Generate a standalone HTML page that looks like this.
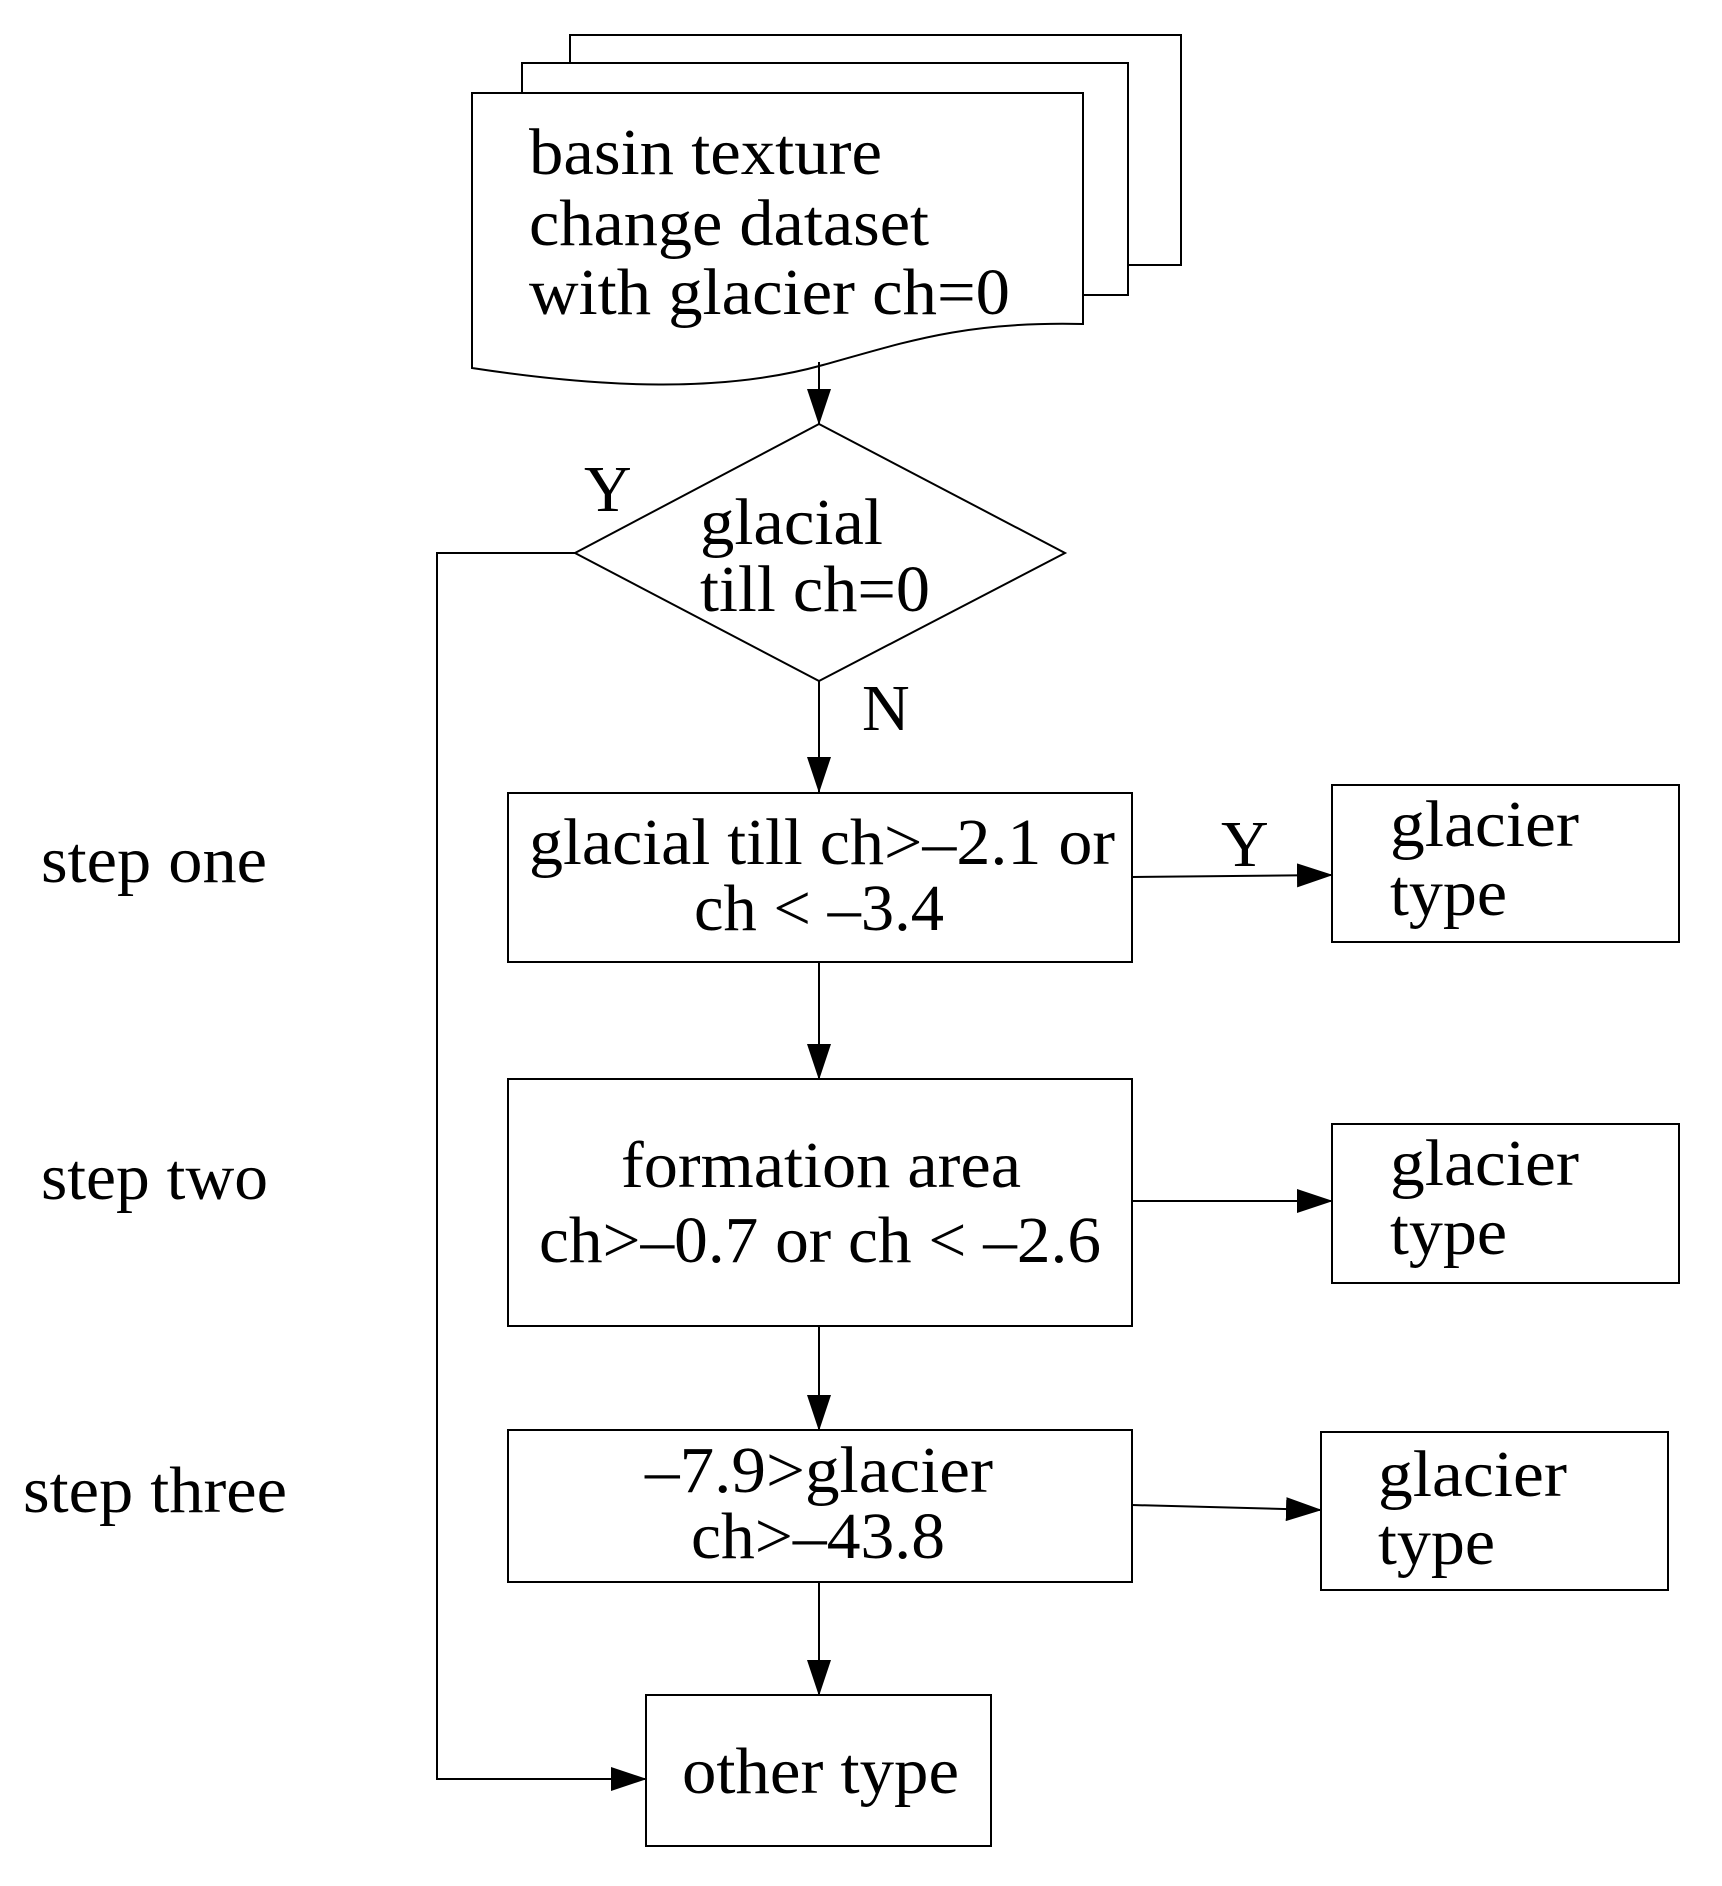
<!DOCTYPE html>
<html><head><meta charset="utf-8"><style>
html,body{margin:0;padding:0;background:#fff;}
svg{display:block;}
text{font-family:"Liberation Serif",serif;font-size:66px;fill:#000;}
</style></head><body>
<svg width="1722" height="1886" viewBox="0 0 1722 1886" xmlns="http://www.w3.org/2000/svg">
<defs>
<marker id="a" markerWidth="36" markerHeight="24" refX="35" refY="12" orient="auto" markerUnits="userSpaceOnUse">
<path d="M0,0 L36,12 L0,24 Z" fill="#000"/></marker>
</defs>
<g transform="translate(3,3)">
<g fill="#fff" stroke="#000" stroke-width="2">
<rect x="567" y="32" width="611" height="230"/>
<rect x="519" y="60" width="606" height="232"/>
<path d="M469,90 L1080,90 L1080,321 C960,318 900,340 820,362 C720,390 600,385 469,365 Z"/>
</g>
<text x="526" y="171" textLength="353" lengthAdjust="spacingAndGlyphs">basin texture</text>
<text x="526" y="242" textLength="400" lengthAdjust="spacingAndGlyphs">change dataset</text>
<text x="526" y="311" textLength="481" lengthAdjust="spacingAndGlyphs">with glacier ch=0</text>
<g stroke="#000" stroke-width="2" fill="none">
<line x1="816" y1="359" x2="816" y2="421" marker-end="url(#a)"/>
<polygon points="816,421 1062,550 816,678 572,550" fill="#fff"/>
<polyline points="572,550 434,550 434,1776 643,1776" marker-end="url(#a)"/>
<line x1="816" y1="678" x2="816" y2="789" marker-end="url(#a)"/>
<rect x="505" y="790" width="624" height="169" fill="#fff"/>
<line x1="1129" y1="874" x2="1329" y2="872" marker-end="url(#a)"/>
<rect x="1329" y="782" width="347" height="157"/>
<line x1="816" y1="959" x2="816" y2="1076" marker-end="url(#a)"/>
<rect x="505" y="1076" width="624" height="247"/>
<line x1="1129" y1="1198" x2="1329" y2="1198" marker-end="url(#a)"/>
<rect x="1329" y="1121" width="347" height="159"/>
<line x1="816" y1="1323" x2="816" y2="1427" marker-end="url(#a)"/>
<rect x="505" y="1427" width="624" height="152"/>
<line x1="1129" y1="1502" x2="1318" y2="1507" marker-end="url(#a)"/>
<rect x="1318" y="1429" width="347" height="158"/>
<line x1="816" y1="1579" x2="816" y2="1692" marker-end="url(#a)"/>
<rect x="643" y="1692" width="345" height="151"/>
</g>
<text x="581" y="508" font-size="60">Y</text>
<text x="697" y="541" textLength="183" lengthAdjust="spacingAndGlyphs">glacial</text>
<text x="697" y="608" textLength="230" lengthAdjust="spacingAndGlyphs">till ch=0</text>
<text x="859" y="727" font-size="60">N</text>
<text x="526" y="861" textLength="586" lengthAdjust="spacingAndGlyphs">glacial till ch&gt;–2.1 or</text>
<text x="691" y="927" textLength="250" lengthAdjust="spacingAndGlyphs">ch &lt; –3.4</text>
<text x="1218" y="863" font-size="60">Y</text>
<text x="1387" y="843" textLength="189" lengthAdjust="spacingAndGlyphs">glacier</text>
<text x="1387" y="912" textLength="117" lengthAdjust="spacingAndGlyphs">type</text>
<text x="618" y="1184" textLength="400" lengthAdjust="spacingAndGlyphs">formation area</text>
<text x="536" y="1259" textLength="562" lengthAdjust="spacingAndGlyphs">ch&gt;–0.7 or ch &lt; –2.6</text>
<text x="1387" y="1182" textLength="189" lengthAdjust="spacingAndGlyphs">glacier</text>
<text x="1387" y="1251" textLength="117" lengthAdjust="spacingAndGlyphs">type</text>
<text x="642" y="1489" textLength="348" lengthAdjust="spacingAndGlyphs">–7.9&gt;glacier</text>
<text x="688" y="1555" textLength="254" lengthAdjust="spacingAndGlyphs">ch&gt;–43.8</text>
<text x="1375" y="1493" textLength="189" lengthAdjust="spacingAndGlyphs">glacier</text>
<text x="1375" y="1561" textLength="117" lengthAdjust="spacingAndGlyphs">type</text>
<text x="679" y="1790" textLength="277" lengthAdjust="spacingAndGlyphs">other type</text>
<text x="38" y="879" textLength="226" lengthAdjust="spacingAndGlyphs">step one</text>
<text x="38" y="1196" textLength="227" lengthAdjust="spacingAndGlyphs">step two</text>
<text x="20" y="1509" textLength="264" lengthAdjust="spacingAndGlyphs">step three</text>
</g>
</svg>
</body></html>
